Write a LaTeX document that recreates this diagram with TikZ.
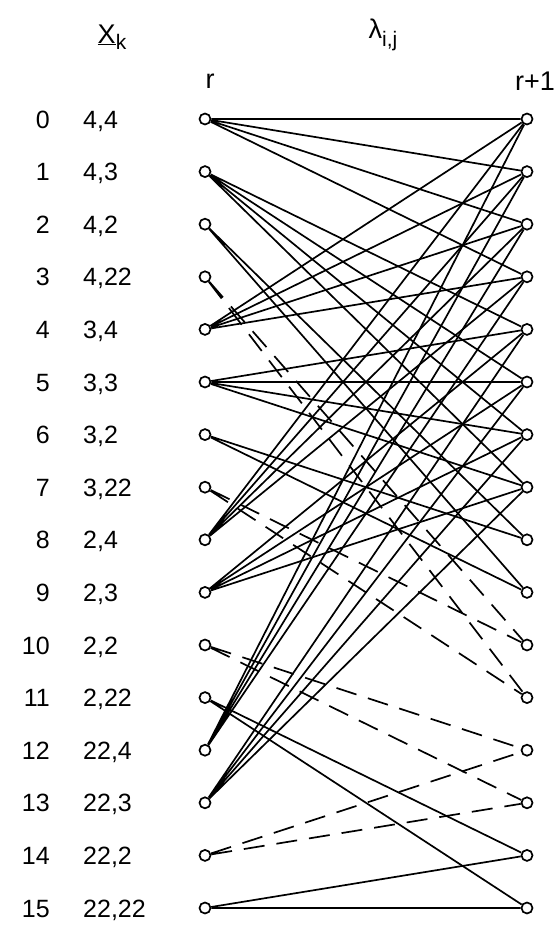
\documentclass[tikz,border=0pt]{standalone}
\usepackage{fontspec}
\setmainfont{Liberation Sans}
\usetikzlibrary{positioning}

\begin{document}
\begin{tikzpicture}[
  x=1pt, y=-1pt,
  state/.style={circle, draw=black, fill=white, line width=1.7pt, inner sep=0pt, minimum size=11pt},
  num/.style={anchor=east, inner sep=0pt, text height=18pt, text depth=0pt, font=\fontsize{25}{28}\selectfont},
  lab/.style={anchor=west, inner sep=0pt, text height=18pt, text depth=0pt, font=\fontsize{25}{28}\selectfont},
  head/.style={inner sep=0pt, font=\fontsize{27}{30}\selectfont},
  edge/.style={line width=1.7pt},
  dedge/.style={line width=1.7pt, dash pattern=on 21pt off 12pt}
]
\useasboundingbox (0,0) rectangle (556,930);

% headings
\node[head] (xk) at (112,37) {\underline{X}\raisebox{-6pt}{\fontsize{21}{22}\selectfont k}};
\node[head] (lam) at (383,35) {λ\raisebox{-8pt}{\fontsize{21}{22}\selectfont i,j}};
\node[head] (tr) at (210,81) {r};
\node[head] (tr1) at (535,81) {r+1};

% states at r and r+1
\foreach \k/\v in {0/{4,4},1/{4,3},2/{4,2},3/{4,22},4/{3,4},5/{3,3},6/{3,2},7/{3,22},
                   8/{2,4},9/{2,3},10/{2,2},11/{2,22},12/{22,4},13/{22,3},14/{22,2},15/{22,22}} {
  \node[num] (n\k) at (50,{119+52.6*\k}) {\k};
  \node[lab] (v\k) at (83,{119+52.6*\k}) {\v};
  \node[state] (s\k) at (205,{119+52.6*\k}) {};
  \node[state] (t\k) at (527,{119+52.6*\k}) {};
}

% (a,4) -> 0..3
\draw[edge] (s0) -- (t0) (s0) -- (t1) (s0) -- (t2) (s0) -- (t3);
\draw[edge] (s4) -- (t0) (s4) -- (t1) (s4) -- (t2) (s4) -- (t3);
\draw[edge] (s8) -- (t0) (s8) -- (t1) (s8) -- (t2) (s8) -- (t3);
\draw[edge] (s12) -- (t0) (s12) -- (t1) (s12) -- (t2) (s12) -- (t3);
% (a,3) -> 4..7
\draw[edge] (s1) -- (t4) (s1) -- (t5) (s1) -- (t6) (s1) -- (t7);
\draw[edge] (s5) -- (t4) (s5) -- (t5) (s5) -- (t6) (s5) -- (t7);
\draw[edge] (s9) -- (t4) (s9) -- (t5) (s9) -- (t6) (s9) -- (t7);
\draw[edge] (s13) -- (t4) (s13) -- (t5) (s13) -- (t6) (s13) -- (t7);
% (a,2) and (a,22)
\draw[edge] (s2) -- (t8) (s2) -- (t9);
\draw[edge] (s6) -- (t8) (s6) -- (t9);
\draw[dedge] (s3) -- (t10) (s3) -- (t11);
\draw[dedge] (s7) -- (t10) (s7) -- (t11);
\draw[dedge] (s10) -- (t12) (s10) -- (t13);
\draw[dedge] (s14) -- (t12) (s14) -- (t13);
\draw[edge] (s11) -- (t14) (s11) -- (t15);
\draw[edge] (s15) -- (t14) (s15) -- (t15);
\end{tikzpicture}
\end{document}
